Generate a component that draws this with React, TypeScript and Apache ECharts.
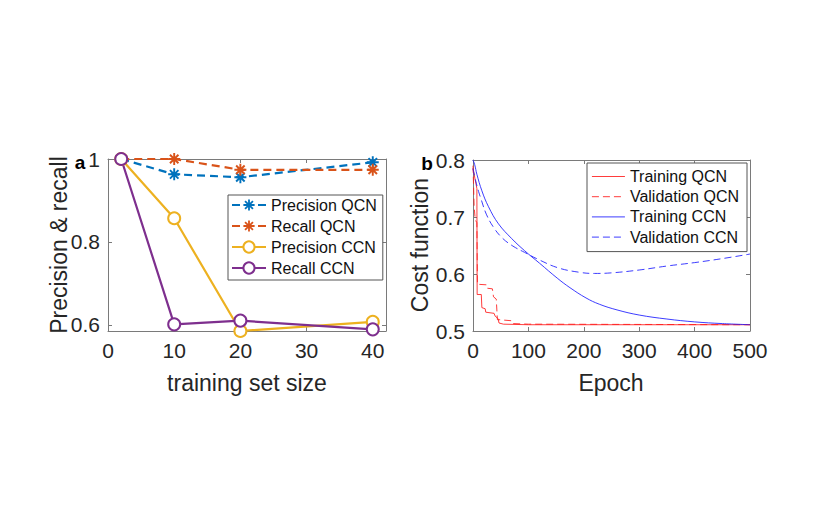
import React, { useEffect, useRef } from "react";
import * as echarts from "echarts";

// ---- Panel a data ----
const trainingSizes = [2, 10, 20, 40];
const precisionQCN = [1, 0.963, 0.956, 0.992];
const recallQCN = [1, 1, 0.974, 0.974];
const precisionCCN = [1, 0.857, 0.585, 0.607];
const recallCCN = [1, 0.601, 0.61, 0.589];
const aXTicks = [0, 10, 20, 30, 40];
const aYTicks = [0.6, 0.8, 1];

// ---- Panel b data ----
const trainQCNEpoch = [0, 4, 7, 7.5, 15, 16, 22, 23, 38, 40, 45, 47, 55, 100, 500];
const trainQCNCost = [0.785, 0.765, 0.75, 0.564, 0.564, 0.541, 0.539, 0.533, 0.531, 0.526, 0.522, 0.514, 0.512, 0.511, 0.511];
const valQCNEpoch = [0, 2, 4, 7, 8, 25, 26, 35, 37, 42, 44, 70, 72, 100, 500];
const valQCNCost = [0.79, 0.72, 0.695, 0.69, 0.582, 0.581, 0.575, 0.574, 0.56, 0.556, 0.52, 0.518, 0.513, 0.512, 0.511];
const trainCCNEpoch = [0, 3, 7, 16, 28, 46, 70, 93, 120, 153, 175, 204, 228, 260, 300, 350, 400, 450, 500];
const trainCCNCost = [0.8, 0.792, 0.775, 0.746, 0.718, 0.688, 0.662, 0.641, 0.619, 0.592, 0.576, 0.558, 0.547, 0.537, 0.528, 0.521, 0.516, 0.513, 0.511];
const valCCNEpoch = [0, 5, 10, 15, 24, 37, 53, 72, 93, 117, 153, 192, 219, 250, 300, 350, 400, 450, 500];
const valCCNCost = [0.785, 0.763, 0.745, 0.73, 0.705, 0.682, 0.663, 0.649, 0.638, 0.626, 0.611, 0.603, 0.601, 0.602, 0.607, 0.614, 0.62, 0.627, 0.635];

const zip = (xs: number[], ys: number[]) => xs.map((x, i) => [x, ys[i]]);

const FONT = '"Liberation Sans", Arial, Helvetica, sans-serif';
const TXT = "#262626";
const AX = "#7a7a7a";

const STAR =
  "path://M-1.2,-7.5L1.2,-7.5L1.2,7.5L-1.2,7.5Z" +
  "M-7.5,-1.2L7.5,-1.2L7.5,1.2L-7.5,1.2Z" +
  "M-6.15,-4.45L-4.45,-6.15L6.15,4.45L4.45,6.15Z" +
  "M-4.45,6.15L-6.15,4.45L4.45,-6.15L6.15,-4.45Z";

const BLUE = "#0072BD";
const ORANGE = "#D95319";
const YELLOW = "#EDB120";
const PURPLE = "#7E2F8E";
const RED = "#ff1a1a";
const BLU2 = "#1a1aff";

function axisBase(extra: any) {
  return {
    axisLine: { show: true, onZero: false, lineStyle: { color: AX, width: 1 } },
    splitLine: { show: false },
    axisTick: { show: true, inside: true, length: 4, lineStyle: { color: AX } },
    axisLabel: { color: TXT, fontSize: 21, fontFamily: FONT, margin: 8 },
    ...extra,
  };
}

export default function App() {
  const ref = useRef<HTMLDivElement>(null);
  useEffect(() => {
    if (!ref.current) return;
    const chart = echarts.init(ref.current, undefined, { renderer: "svg" });
    const option: any = {
      animation: false,
      backgroundColor: "#ffffff",
      textStyle: { fontFamily: FONT },
      grid: [
        { left: 108, top: 159, width: 278, height: 172, show: false, outerBoundsMode: "none", containLabel: false },
        { left: 473, top: 160, width: 277, height: 171, show: false, outerBoundsMode: "none", containLabel: false },
      ],
      xAxis: [
        axisBase({
          type: "value", gridIndex: 0, min: 0, max: 42, position: "bottom",
          axisTick: { show: true, inside: true, length: 4, lineStyle: { color: AX }, customValues: aXTicks },
          axisLabel: { color: TXT, fontSize: 21, fontFamily: FONT, margin: 9, customValues: aXTicks },
        }),
        axisBase({
          type: "value", gridIndex: 0, min: 0, max: 42, position: "top",
          axisTick: { show: true, inside: true, length: 4, lineStyle: { color: AX }, customValues: aXTicks },
          axisLabel: { show: false },
        }),
        axisBase({
          type: "value", gridIndex: 1, min: 0, max: 500, interval: 100, position: "bottom",
          axisLabel: { color: TXT, fontSize: 21, fontFamily: FONT, margin: 9 },
        }),
        axisBase({
          type: "value", gridIndex: 1, min: 0, max: 500, interval: 100, position: "top",
          axisLabel: { show: false },
        }),
      ],
      yAxis: [
        axisBase({
          type: "value", gridIndex: 0, min: 0.585, max: 1, position: "left",
          axisTick: { show: true, inside: true, length: 4, lineStyle: { color: AX }, customValues: aYTicks },
          axisLabel: { color: TXT, fontSize: 21, fontFamily: FONT, margin: 8, customValues: aYTicks, formatter: (v: number) => String(Math.round(v * 10) / 10) },
        }),
        axisBase({
          type: "value", gridIndex: 0, min: 0.585, max: 1, position: "right",
          axisTick: { show: true, inside: true, length: 4, lineStyle: { color: AX }, customValues: aYTicks },
          axisLabel: { show: false },
        }),
        axisBase({
          type: "value", gridIndex: 1, min: 0.5, max: 0.8, interval: 0.1, position: "left",
          axisLabel: { color: TXT, fontSize: 21, fontFamily: FONT, margin: 8, formatter: (v: number) => (Math.round(v * 10) / 10).toFixed(1) },
        }),
        axisBase({
          type: "value", gridIndex: 1, min: 0.5, max: 0.8, interval: 0.1, position: "right",
          axisLabel: { show: false },
        }),
      ],
      legend: [
        {
          data: ["Precision QCN", "Recall QCN", "Precision CCN", "Recall CCN"],
          orient: "vertical", left: 228, top: 195,
          itemWidth: 34, itemHeight: 14, itemGap: 5,
          padding: [2, 6, 4, 3],
          backgroundColor: "#ffffff", borderColor: "#555", borderWidth: 1, borderRadius: 0,
          textStyle: { color: "#111", fontSize: 16, fontFamily: FONT, lineHeight: 16 },
        },
        {
          data: ["Training QCN", "Validation QCN", "Training CCN", "Validation CCN"],
          orient: "vertical", left: 587, top: 163,
          itemWidth: 33, itemHeight: 12, itemGap: 4.2,
          padding: [5.5, 8, 6.5, 4.5],
          backgroundColor: "#ffffff", borderColor: "#555", borderWidth: 1, borderRadius: 0,
          itemStyle: { color: "rgba(0,0,0,0)", borderColor: "rgba(0,0,0,0)", borderWidth: 0, opacity: 0 },
          lineStyle: { width: 0.85 },
          textStyle: { color: "#111", fontSize: 16, fontFamily: FONT, lineHeight: 16 },
        },
      ],
      series: [
        {
          name: "Precision QCN", type: "line", xAxisIndex: 0, yAxisIndex: 0, clip: false,
          data: zip(trainingSizes, precisionQCN),
          symbol: STAR, symbolSize: 12,
          lineStyle: { color: BLUE, width: 2.2, type: [8, 5] },
          itemStyle: { color: BLUE },
        },
        {
          name: "Recall QCN", type: "line", xAxisIndex: 0, yAxisIndex: 0, clip: false,
          data: zip(trainingSizes, recallQCN),
          symbol: STAR, symbolSize: 12,
          lineStyle: { color: ORANGE, width: 2.2, type: [8, 5] },
          itemStyle: { color: ORANGE },
        },
        {
          name: "Precision CCN", type: "line", xAxisIndex: 0, yAxisIndex: 0, clip: false,
          data: zip(trainingSizes, precisionCCN),
          symbol: "emptyCircle", symbolSize: 12,
          lineStyle: { color: YELLOW, width: 2.2 },
          itemStyle: { color: YELLOW, borderColor: YELLOW, borderWidth: 2.2 },
        },
        {
          name: "Recall CCN", type: "line", xAxisIndex: 0, yAxisIndex: 0, clip: false,
          data: zip(trainingSizes, recallCCN),
          symbol: "emptyCircle", symbolSize: 12,
          lineStyle: { color: PURPLE, width: 2.2 },
          itemStyle: { color: PURPLE, borderColor: PURPLE, borderWidth: 2.2 },
        },
        {
          name: "Training QCN", type: "line", xAxisIndex: 2, yAxisIndex: 2,
          data: zip(trainQCNEpoch, trainQCNCost), showSymbol: false, symbol: "none",
          lineStyle: { color: RED, width: 0.85 }, itemStyle: { color: RED },
        },
        {
          name: "Validation QCN", type: "line", xAxisIndex: 2, yAxisIndex: 2,
          data: zip(valQCNEpoch, valQCNCost), showSymbol: false, symbol: "none",
          lineStyle: { color: RED, width: 0.85, type: [7, 4] }, itemStyle: { color: RED },
        },
        {
          name: "Training CCN", type: "line", xAxisIndex: 2, yAxisIndex: 2,
          data: zip(trainCCNEpoch, trainCCNCost), showSymbol: false, symbol: "none", smooth: 0.4,
          lineStyle: { color: BLU2, width: 0.85 }, itemStyle: { color: BLU2 },
        },
        {
          name: "Validation CCN", type: "line", xAxisIndex: 2, yAxisIndex: 2,
          data: zip(valCCNEpoch, valCCNCost), showSymbol: false, symbol: "none", smooth: 0.4,
          lineStyle: { color: BLU2, width: 0.85, type: [7, 4] }, itemStyle: { color: BLU2 },
        },
      ],
      graphic: [
        { type: "text", x: 59, y: 245, rotation: Math.PI / 2, style: { text: "Precision & recall", fontSize: 23, fontFamily: FONT, fill: TXT, align: "center", verticalAlign: "middle" } },
        { type: "text", x: 420, y: 245, rotation: Math.PI / 2, style: { text: "Cost function", fontSize: 23, fontFamily: FONT, fill: TXT, align: "center", verticalAlign: "middle" } },
        { type: "text", x: 247, y: 383, style: { text: "training set size", fontSize: 23, fontFamily: FONT, fill: TXT, align: "center", verticalAlign: "middle" } },
        { type: "text", x: 611, y: 383, style: { text: "Epoch", fontSize: 23, fontFamily: FONT, fill: TXT, align: "center", verticalAlign: "middle" } },
        { type: "text", x: 80, y: 172, style: { text: "a", fontSize: 19, fontWeight: "bold", fontFamily: FONT, fill: "#000", align: "center", verticalAlign: "bottom" } },
        { type: "text", x: 427, y: 173, style: { text: "b", fontSize: 19, fontWeight: "bold", fontFamily: FONT, fill: "#000", align: "center", verticalAlign: "bottom" } },
      ],
    };
    chart.setOption(option);
    return () => chart.dispose();
  }, []);
  return (
    <div
      ref={ref}
      style={{ position: "fixed", left: 0, top: 0, width: 830, height: 508, background: "#fff" }}
    />
  );
}
